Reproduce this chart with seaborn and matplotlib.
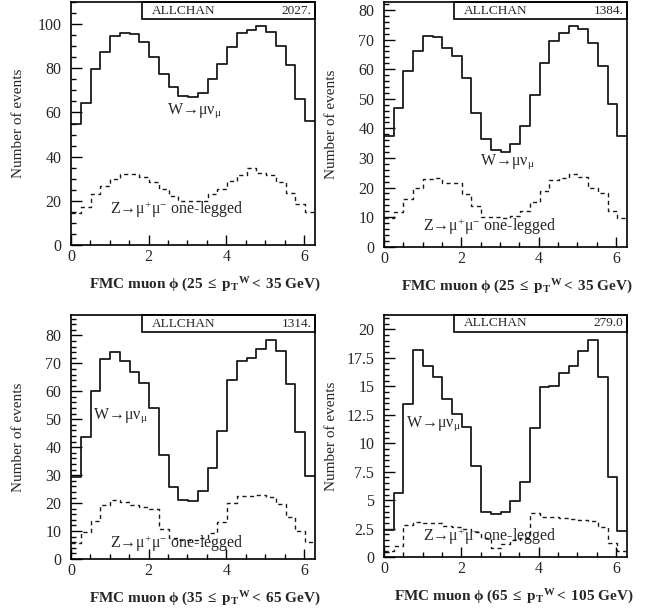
import numpy as np
import pandas as pd
import matplotlib
matplotlib.use('Agg')
import matplotlib.pyplot as plt
import seaborn as sns
from matplotlib.patches import Rectangle
from matplotlib.ticker import MultipleLocator, FormatStrFormatter

sns.set_style('ticks')
plt.rcParams['font.family'] = ['Liberation Serif', 'DejaVu Serif']
plt.rcParams['mathtext.fontset'] = 'custom'
plt.rcParams['mathtext.rm'] = 'Liberation Serif'
plt.rcParams['mathtext.it'] = 'Liberation Serif:italic'
plt.rcParams['mathtext.bf'] = 'Liberation Serif:bold'
plt.rcParams['mathtext.default'] = 'rm'

# 25 bins in muon phi from 0 to 2*pi
n_bins = 25
edges = np.linspace(0, 2 * np.pi, n_bins + 1)
centers = 0.5 * (edges[:-1] + edges[1:])

# W -> mu nu (solid) and Z -> mu mu one-legged (dashed)
w_pt25 = [55, 64.5, 79.5, 87.5, 94.5, 95.8, 95.3, 92, 85, 77.5, 71.5, 67.5, 67,
          69, 75, 82, 89.5, 96, 97.5, 99, 96.5, 90, 81.5, 66, 56]
z_pt25 = [14.3, 17, 23, 26.5, 30, 32, 32, 31, 28.5, 25.5, 22, 20, 20,
          20, 23, 25.5, 29, 31.5, 35, 32.5, 31.5, 28.5, 23.5, 18.5, 15]

w_pt25b = [37.4, 47, 59.4, 66, 71.2, 70.9, 67.3, 64.6, 57, 45.3, 36.3, 32.7, 31.9,
           34.6, 40.8, 51.3, 62.2, 69.6, 72.2, 74.5, 73.6, 69, 61.2, 48.1, 37.5]
z_pt25b = [9.6, 11.7, 16.1, 19.7, 23, 23.1, 21.6, 21.5, 17.7, 13.9, 10.1, 9.9, 9.6,
           10.4, 12.2, 15, 18.9, 22.5, 23.1, 24.5, 23.4, 20, 18, 12.2, 9.6]

w_pt35 = [29.4, 43.5, 60.2, 71.4, 73.9, 70.7, 67, 62.8, 54.2, 37.2, 25.9, 21.1, 20.9,
          24.4, 32.7, 45.9, 63.9, 70.9, 71.8, 75.3, 78.5, 74.6, 62.5, 45.5, 29.6]
z_pt35 = [5.6, 9.8, 13.7, 19.3, 21.1, 20.3, 19.3, 18.5, 17.9, 10.6, 7.4, 6.8, 6.8,
          7.4, 9.2, 13.3, 20.1, 22.5, 22.5, 22.9, 22.3, 19.7, 15.1, 10.1, 6.2]

w_pt65 = [2.4, 5.6, 13.45, 18.2, 16.8, 15.8, 13.9, 12.6, 11.4, 8.0, 4.0, 3.8, 4.0,
          4.9, 6.6, 11.3, 14.9, 15.0, 16.2, 16.8, 18.1, 19.1, 15.8, 7.0, 2.3]
z_pt65 = [0.55, 1.0, 2.8, 3.07, 3.04, 2.98, 2.75, 2.63, 2.46, 2.25, 1.67, 0.79, 1.17,
          1.52, 1.67, 3.86, 3.57, 3.57, 3.48, 3.33, 3.27, 3.19, 2.63, 1.29, 0.55]

totals = ['2027.', '1384.', '1314.', '279.0']
pt_ranges = ['25\\ \\leq\\ p_{T}{}^{W}<\\ 35', '25\\ \\leq\\ p_{T}{}^{W}<\\ 35',
             '35\\ \\leq\\ p_{T}{}^{W}<\\ 65', '65\\ \\leq\\ p_{T}{}^{W}<\\ 105']
y_tops = [110, 82.7, 87.3, 21.25]
y_major = [20, 10, 10, 2.5]
y_minor = [5, 2, 2, 0.5]
w_label_pos = [(2.46, 59.6), (2.47, 27.6), (0.575, 50.3), (0.577, 11.46)]
z_label_pos = [(1.0, 13.9), (1.0, 5.3), (1.0, 4.05), (1.0, 1.43)]

panels = [(w_pt25, z_pt25), (w_pt25b, z_pt25b), (w_pt35, z_pt35), (w_pt65, z_pt65)]
axes_rects = [[0.1099, 0.6003, 0.3777, 0.3964],
              [0.5944, 0.5975, 0.3762, 0.3992],
              [0.1099, 0.0881, 0.3777, 0.3980],
              [0.5944, 0.0909, 0.3762, 0.3952]]

fig = plt.figure(figsize=(6.46, 6.13), dpi=100)

for i, (w, z) in enumerate(panels):
    ax = fig.add_axes(axes_rects[i])
    df = pd.DataFrame({'phi': centers, 'w': w, 'z': z})
    sns.histplot(data=df, x='phi', weights='w', bins=list(edges), element='step',
                 fill=False, color='#1a1a1a', linewidth=1.3, ax=ax)
    sns.histplot(data=df, x='phi', weights='z', bins=list(edges), element='step',
                 fill=False, color='#1a1a1a', linewidth=1.0, linestyle=(0, (3, 2.5)), ax=ax)
    ax.set_xlim(0, 2 * np.pi)
    ax.set_ylim(0, y_tops[i])
    ax.xaxis.set_major_locator(MultipleLocator(2))
    ax.xaxis.set_minor_locator(MultipleLocator(0.5))
    ax.yaxis.set_major_locator(MultipleLocator(y_major[i]))
    ax.yaxis.set_minor_locator(MultipleLocator(y_minor[i]))
    ax.yaxis.set_major_formatter(FormatStrFormatter('%g'))
    ax.tick_params(which='both', direction='in', top=False, right=False,
                   labelsize=11.5, color='black', width=1.0)
    ax.tick_params(axis='x', which='major', length=7, pad=3)
    ax.tick_params(axis='y', which='major', length=8, pad=7)
    ax.tick_params(which='minor', length=3.5)
    for sp in ax.spines.values():
        sp.set_visible(True)
        sp.set_linewidth(1.2)
        sp.set_color('black')
    ax.set_ylabel('Number of events', fontsize=11)
    ax.yaxis.set_label_coords(-0.19, 0.5)
    ax.set_xlabel('$\\mathbf{FMC\\ muon\\ \\phi\\ (' + pt_ranges[i] + '\\ GeV)}$',
                  fontsize=11, ha='right')
    ax.xaxis.set_label_coords(1.025, -0.125)

    # statistics box in the top right corner
    ax.add_patch(Rectangle((0.29, 0.93), 0.71, 0.07, transform=ax.transAxes,
                           fill=False, edgecolor='black', linewidth=1.2, clip_on=False))
    ax.text(0.33, 0.965, 'ALLCHAN', transform=ax.transAxes, fontsize=9.5,
            ha='left', va='center')
    ax.text(0.985, 0.965, totals[i], transform=ax.transAxes, fontsize=9.5,
            ha='right', va='center')

    ax.text(*w_label_pos[i], 'W→μν$_{\\mu}$', fontsize=11.5,
            ha='left', va='baseline')
    ax.text(*z_label_pos[i], 'Z→μ$^{+}$μ$^{-}$ one-legged', fontsize=11.5,
            ha='left', va='baseline')

fig.savefig('out.png', dpi=100)
